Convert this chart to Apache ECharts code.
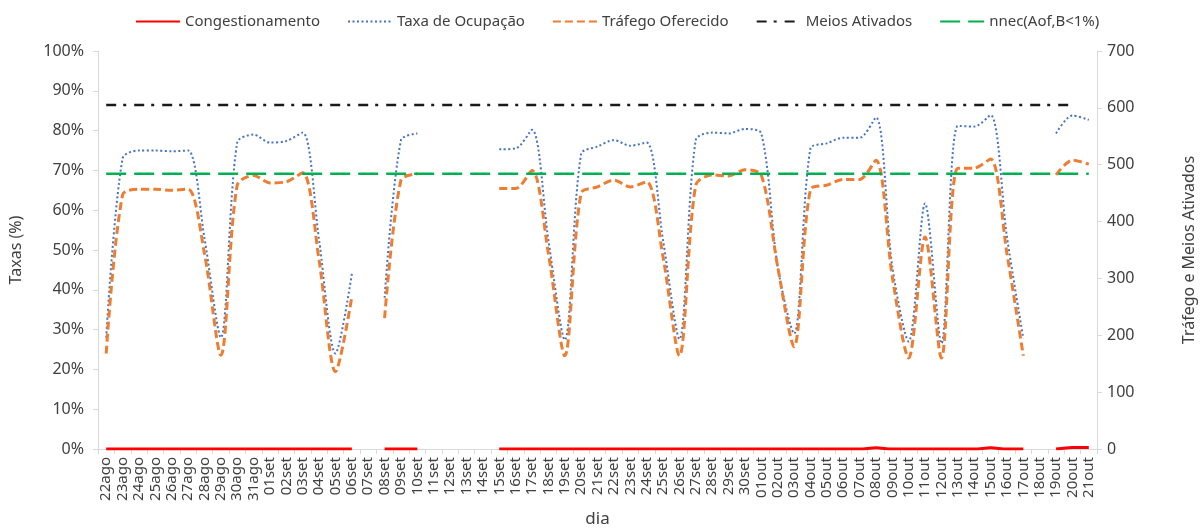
<!DOCTYPE html>
<html>
<head>
<meta charset="utf-8">
<script src="https://cdn.jsdelivr.net/npm/echarts@6/dist/echarts.min.js"></script>
<style>
  html, body { margin: 0; padding: 0; background: #fff; }
  #chart { width: 1203px; height: 528px; }
</style>
</head>
<body>
<div id="chart"></div>
<script>
const dias = [
  '22ago', '23ago', '24ago', '25ago', '26ago', '27ago', '28ago', '29ago', '30ago', '31ago',
  '01set', '02set', '03set', '04set', '05set', '06set', '07set', '08set', '09set', '10set',
  '11set', '12set', '13set', '14set', '15set', '16set', '17set', '18set', '19set', '20set',
  '21set', '22set', '23set', '24set', '25set', '26set', '27set', '28set', '29set', '30set',
  '01out', '02out', '03out', '04out', '05out', '06out', '07out', '08out', '09out', '10out',
  '11out', '12out', '13out', '14out', '15out', '16out', '17out', '18out', '19out', '20out', '21out'
];

// Taxa de Ocupação (%), eixo esquerdo
const taxaOcupacao = [
  28, 73, 75, 75, 74.8, 75, 53, 28, 77, 79,
  77, 77.4, 79.5, 52.5, 24, 44, null, 38, 77.6, 79.3,
  null, null, null, null, 75.3, 75.5, 80.2, 52.5, 27.4, 74.1,
  76, 77.6, 76.2, 77, 52.5, 27.6, 77.6, 79.5, 79.3, 80.4,
  79.3, 45.8, 29, 75.5, 76.8, 78.2, 78.2, 83.3, 45.8, 27,
  61.7, 26.5, 81.2, 81, 83.9, 53.3, 27.8, null, 79.3, 83.8, 82.7
];

// Tráfego Oferecido, eixo direito
const trafego = [
  168, 447, 457, 457, 455, 457, 344, 165, 464, 481,
  468, 470, 486, 332, 136, 268, null, 230, 473, 484,
  null, null, null, null, 458, 458, 490, 344, 164, 450,
  461, 473, 461, 470, 338, 164, 464, 482, 480, 491,
  482, 321, 180, 456, 464, 474, 474, 508, 303, 160,
  373, 160, 494, 494, 510, 344, 164, null, 482, 508, 501
];

// Congestionamento (%), eixo esquerdo
const congestionamento = [
  0, 0, 0, 0, 0, 0, 0, 0, 0, 0,
  0, 0, 0, 0, 0, 0, null, 0, 0, 0,
  null, null, null, null, 0, 0, 0, 0, 0, 0,
  0, 0, 0, 0, 0, 0, 0, 0, 0, 0,
  0, 0, 0, 0, 0, 0, 0, 0.3, 0, 0,
  0, 0, 0, 0, 0.3, 0, 0, null, 0, 0.4, 0.4
];

const meiosAtivados = dias.map((d, i) => (i < 60 ? 605 : null));
const nnec = dias.map(() => 484);

const txt = '#404040';
const fontFam = "'Noto Sans', sans-serif";

const chart = echarts.init(document.getElementById('chart'));
chart.setOption({
  backgroundColor: '#fff',
  textStyle: { fontFamily: fontFam },
  animation: false,
  grid: { left: 98, right: 106, top: 51, bottom: 79, outerBoundsMode: 'none', containLabel: false },
  legend: {
    top: 9,
    left: 130,
    itemWidth: 44,
    itemHeight: 14,
    itemGap: 27,
    itemStyle: { opacity: 0 },
    textStyle: { fontSize: 15, color: txt, fontFamily: fontFam }
  },
  xAxis: {
    type: 'category',
    data: dias,
    name: 'dia',
    nameLocation: 'middle',
    nameGap: 62,
    nameTextStyle: { fontSize: 17, color: txt },
    axisLine: { lineStyle: { color: '#d9d9d9', width: 1 } },
    axisTick: { show: true, interval: 0, length: 5, lineStyle: { color: '#d9d9d9' } },
    axisLabel: { interval: 0, rotate: 90, fontSize: 15, color: txt, margin: 8 },
    splitLine: { show: false }
  },
  yAxis: [
    {
      type: 'value',
      min: 0,
      max: 100,
      interval: 10,
      name: 'Taxas (%)',
      nameLocation: 'middle',
      nameRotate: 90,
      nameGap: 74,
      nameTextStyle: { fontSize: 16, color: txt },
      axisLine: { show: true, lineStyle: { color: '#d9d9d9' } },
      axisTick: { show: true, length: 5, lineStyle: { color: '#d9d9d9' } },
      axisLabel: { formatter: '{value}%', fontSize: 16, color: txt, margin: 14 },
      splitLine: { show: false }
    },
    {
      type: 'value',
      min: 0,
      max: 700,
      interval: 100,
      name: 'Tráfego e Meios Ativados',
      nameLocation: 'middle',
      nameRotate: 90,
      nameGap: 84,
      nameTextStyle: { fontSize: 16, color: txt },
      axisLine: { show: true, lineStyle: { color: '#d9d9d9' } },
      axisTick: { show: true, length: 5, lineStyle: { color: '#d9d9d9' } },
      axisLabel: { fontSize: 16, color: txt, margin: 10 },
      splitLine: { show: false }
    }
  ],
  series: [
    {
      name: 'Congestionamento',
      type: 'line',
      yAxisIndex: 0,
      data: congestionamento,
      symbol: 'none',
      smooth: 0.3,
      color: '#ff0000',
      lineStyle: { color: '#ff0000', width: 3 }
    },
    {
      name: 'Taxa de Ocupação',
      type: 'line',
      yAxisIndex: 0,
      data: taxaOcupacao,
      symbol: 'none',
      smooth: 0.3,
      color: '#4472c4',
      lineStyle: { color: '#4472c4', width: 2, type: [2, 2.5] }
    },
    {
      name: 'Tráfego Oferecido',
      type: 'line',
      yAxisIndex: 1,
      data: trafego,
      symbol: 'none',
      smooth: 0.3,
      color: '#ed7d31',
      lineStyle: { color: '#ed7d31', width: 3, type: [8, 4] }
    },
    {
      name: 'Meios Ativados',
      type: 'line',
      yAxisIndex: 1,
      data: meiosAtivados,
      symbol: 'none',
      color: '#000000',
      lineStyle: { color: '#1a1a1a', width: 2.5, type: [10, 7, 3, 8] }
    },
    {
      name: 'nnec(Aof,B<1%)',
      type: 'line',
      yAxisIndex: 1,
      data: nnec,
      symbol: 'none',
      color: '#00b050',
      lineStyle: { color: '#00b050', width: 2.5, type: [20, 8] }
    }
  ]
});
</script>
</body>
</html>
